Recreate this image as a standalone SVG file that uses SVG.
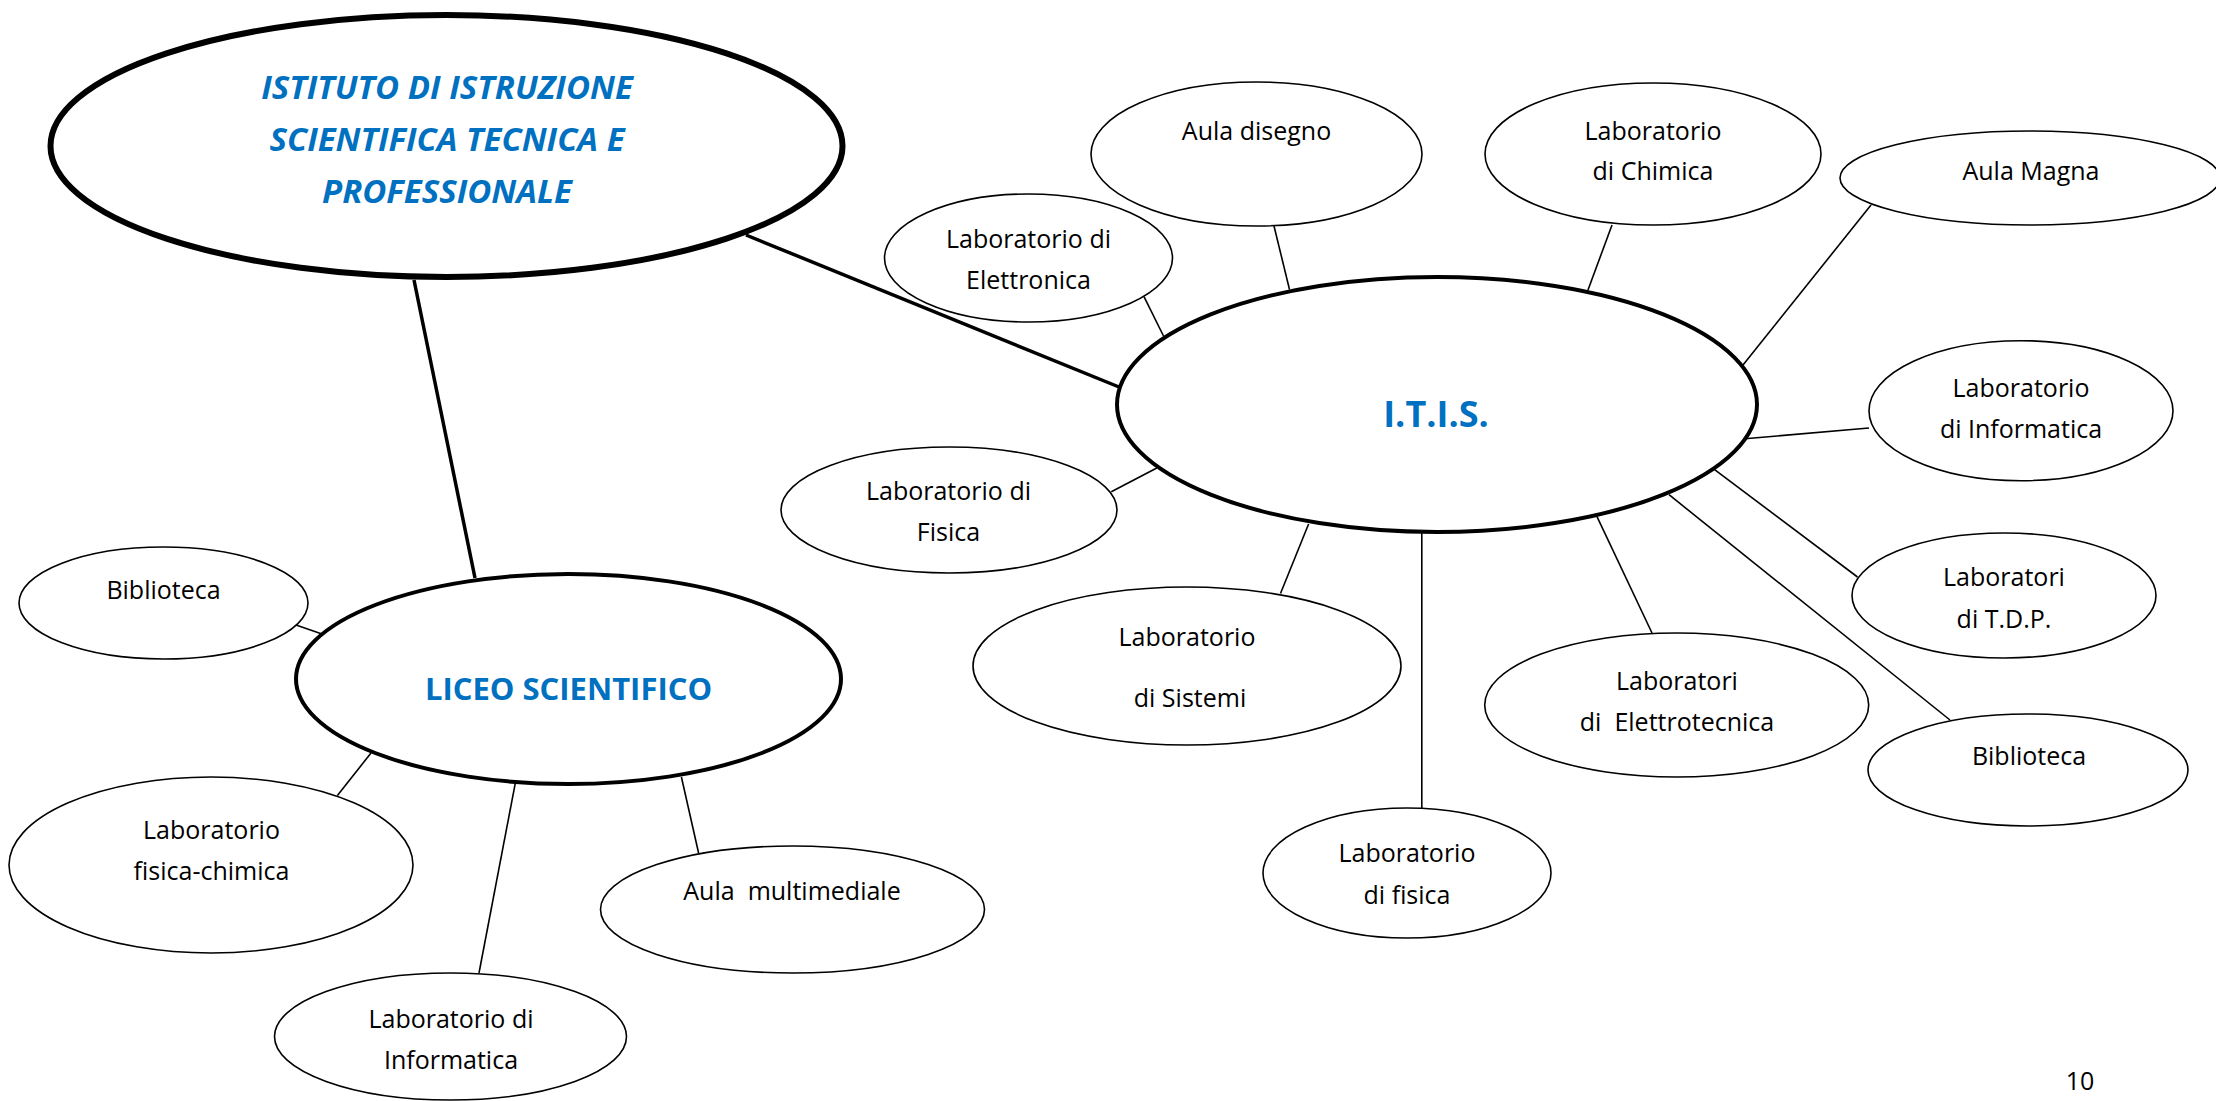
<svg xmlns="http://www.w3.org/2000/svg" width="2216" height="1101" viewBox="0 0 2216 1101">
<style>
.n{fill:#fff;stroke:#000;stroke-width:1.6}
.t{font-family:"Open Sans","Liberation Sans",sans-serif;font-size:25px;fill:#000;text-anchor:middle;white-space:pre}
.b{font-family:"Open Sans","Liberation Sans",sans-serif;font-weight:bold;fill:#0070C0;text-anchor:middle}
.c line{stroke:#000;stroke-width:1.6}
.c line.k{stroke-width:3.5}
</style>
<rect width="2216" height="1101" fill="#fff"/>
<g id="connectors" class="c">
<line class="k" x1="746" y1="235" x2="1119" y2="387"/>
<line class="k" x1="414" y1="280" x2="475" y2="578"/>
<line x1="1144" y1="296.6" x2="1163.5" y2="336"/>
<line x1="1274" y1="226" x2="1289.5" y2="289.5"/>
<line x1="1612" y1="225" x2="1588" y2="290"/>
<line x1="1871" y1="205" x2="1743" y2="365"/>
<line x1="1869" y1="428" x2="1742" y2="439"/>
<line x1="1857.5" y1="577" x2="1714.6" y2="469.6"/>
<line x1="1950" y1="720" x2="1669" y2="494.7"/>
<line x1="1652" y1="633" x2="1597" y2="516.6"/>
<line x1="1421.8" y1="532" x2="1421.8" y2="808.7"/>
<line x1="1280.5" y1="593.5" x2="1308.6" y2="524"/>
<line x1="1111.3" y1="491.7" x2="1156.8" y2="468"/>
<line x1="296" y1="625" x2="322" y2="634"/>
<line x1="337.4" y1="795.5" x2="371" y2="753"/>
<line x1="479" y1="973" x2="515.4" y2="782.6"/>
<line x1="698.6" y1="853" x2="681.4" y2="777"/>
</g>
<g id="istituto">
<ellipse cx="446.5" cy="146" rx="396" ry="131" fill="#fff" stroke="#000" stroke-width="6"/>
<text class="b" font-size="33" font-style="italic" x="447" y="99">ISTITUTO DI ISTRUZIONE</text>
<text class="b" font-size="33" font-style="italic" x="447" y="151">SCIENTIFICA TECNICA E</text>
<text class="b" font-size="33" font-style="italic" x="447" y="203">PROFESSIONALE</text>
</g>
<g id="itis">
<ellipse cx="1437" cy="404.5" rx="320" ry="127.5" fill="#fff" stroke="#000" stroke-width="4"/>
<text class="b" font-size="36" x="1436" y="427">I.T.I.S.</text>
</g>
<g id="liceo">
<ellipse cx="568.5" cy="679" rx="272.5" ry="105" fill="#fff" stroke="#000" stroke-width="4"/>
<text class="b" font-size="31" x="568.5" y="700">LICEO SCIENTIFICO</text>
</g>
<g id="aula-disegno">
<ellipse class="n" cx="1256.5" cy="154" rx="165.5" ry="72"/>
<text class="t" x="1256.5" y="139.5">Aula disegno</text>
</g>
<g id="lab-elettronica">
<ellipse class="n" cx="1028.5" cy="258" rx="144" ry="64"/>
<text class="t" x="1028.5" y="248">Laboratorio di</text>
<text class="t" x="1028.5" y="289">Elettronica</text>
</g>
<g id="lab-chimica">
<ellipse class="n" cx="1653" cy="154" rx="168" ry="71"/>
<text class="t" x="1653" y="140">Laboratorio</text>
<text class="t" x="1653" y="180">di Chimica</text>
</g>
<g id="aula-magna">
<ellipse class="n" cx="2030" cy="178" rx="190" ry="47"/>
<text class="t" x="2031" y="180">Aula Magna</text>
</g>
<g id="lab-informatica-itis">
<ellipse class="n" cx="2021" cy="410.7" rx="152" ry="70"/>
<text class="t" x="2021" y="397">Laboratorio</text>
<text class="t" x="2021" y="438">di Informatica</text>
</g>
<g id="lab-tdp">
<ellipse class="n" cx="2004" cy="595.5" rx="152" ry="62.5"/>
<text class="t" x="2004" y="586">Laboratori</text>
<text class="t" x="2004" y="627.6">di T.D.P.</text>
</g>
<g id="biblioteca-itis">
<ellipse class="n" cx="2028" cy="770" rx="160" ry="56"/>
<text class="t" x="2029" y="765">Biblioteca</text>
</g>
<g id="lab-elettrotecnica">
<ellipse class="n" cx="1676.7" cy="705" rx="192" ry="72"/>
<text class="t" x="1677" y="690">Laboratori</text>
<text class="t" x="1677" y="730.7">di  Elettrotecnica</text>
</g>
<g id="lab-fisica-itis">
<ellipse class="n" cx="1407" cy="873" rx="144" ry="65"/>
<text class="t" x="1407" y="862">Laboratorio</text>
<text class="t" x="1407" y="903.7">di fisica</text>
</g>
<g id="lab-sistemi">
<ellipse class="n" cx="1187" cy="666" rx="214" ry="79"/>
<text class="t" x="1187" y="645.7">Laboratorio</text>
<text class="t" x="1190" y="707">di Sistemi</text>
</g>
<g id="lab-fisica">
<ellipse class="n" cx="949" cy="510" rx="168" ry="63"/>
<text class="t" x="948.5" y="500">Laboratorio di</text>
<text class="t" x="948.5" y="541">Fisica</text>
</g>
<g id="biblioteca-liceo">
<ellipse class="n" cx="163.5" cy="603" rx="144.5" ry="56"/>
<text class="t" x="163.5" y="598.7">Biblioteca</text>
</g>
<g id="lab-fisica-chimica">
<ellipse class="n" cx="211" cy="865" rx="202" ry="88"/>
<text class="t" x="211.5" y="838.5">Laboratorio</text>
<text class="t" x="211.5" y="880">fisica-chimica</text>
</g>
<g id="lab-informatica-liceo">
<ellipse class="n" cx="450.5" cy="1036.5" rx="176" ry="63.5"/>
<text class="t" x="451" y="1028">Laboratorio di</text>
<text class="t" x="451" y="1068.6">Informatica</text>
</g>
<g id="aula-multimediale">
<ellipse class="n" cx="792.5" cy="909.5" rx="192" ry="63.5"/>
<text class="t" x="792" y="900">Aula  multimediale</text>
</g>
<text class="t" x="2080" y="1090">10</text>
</svg>
